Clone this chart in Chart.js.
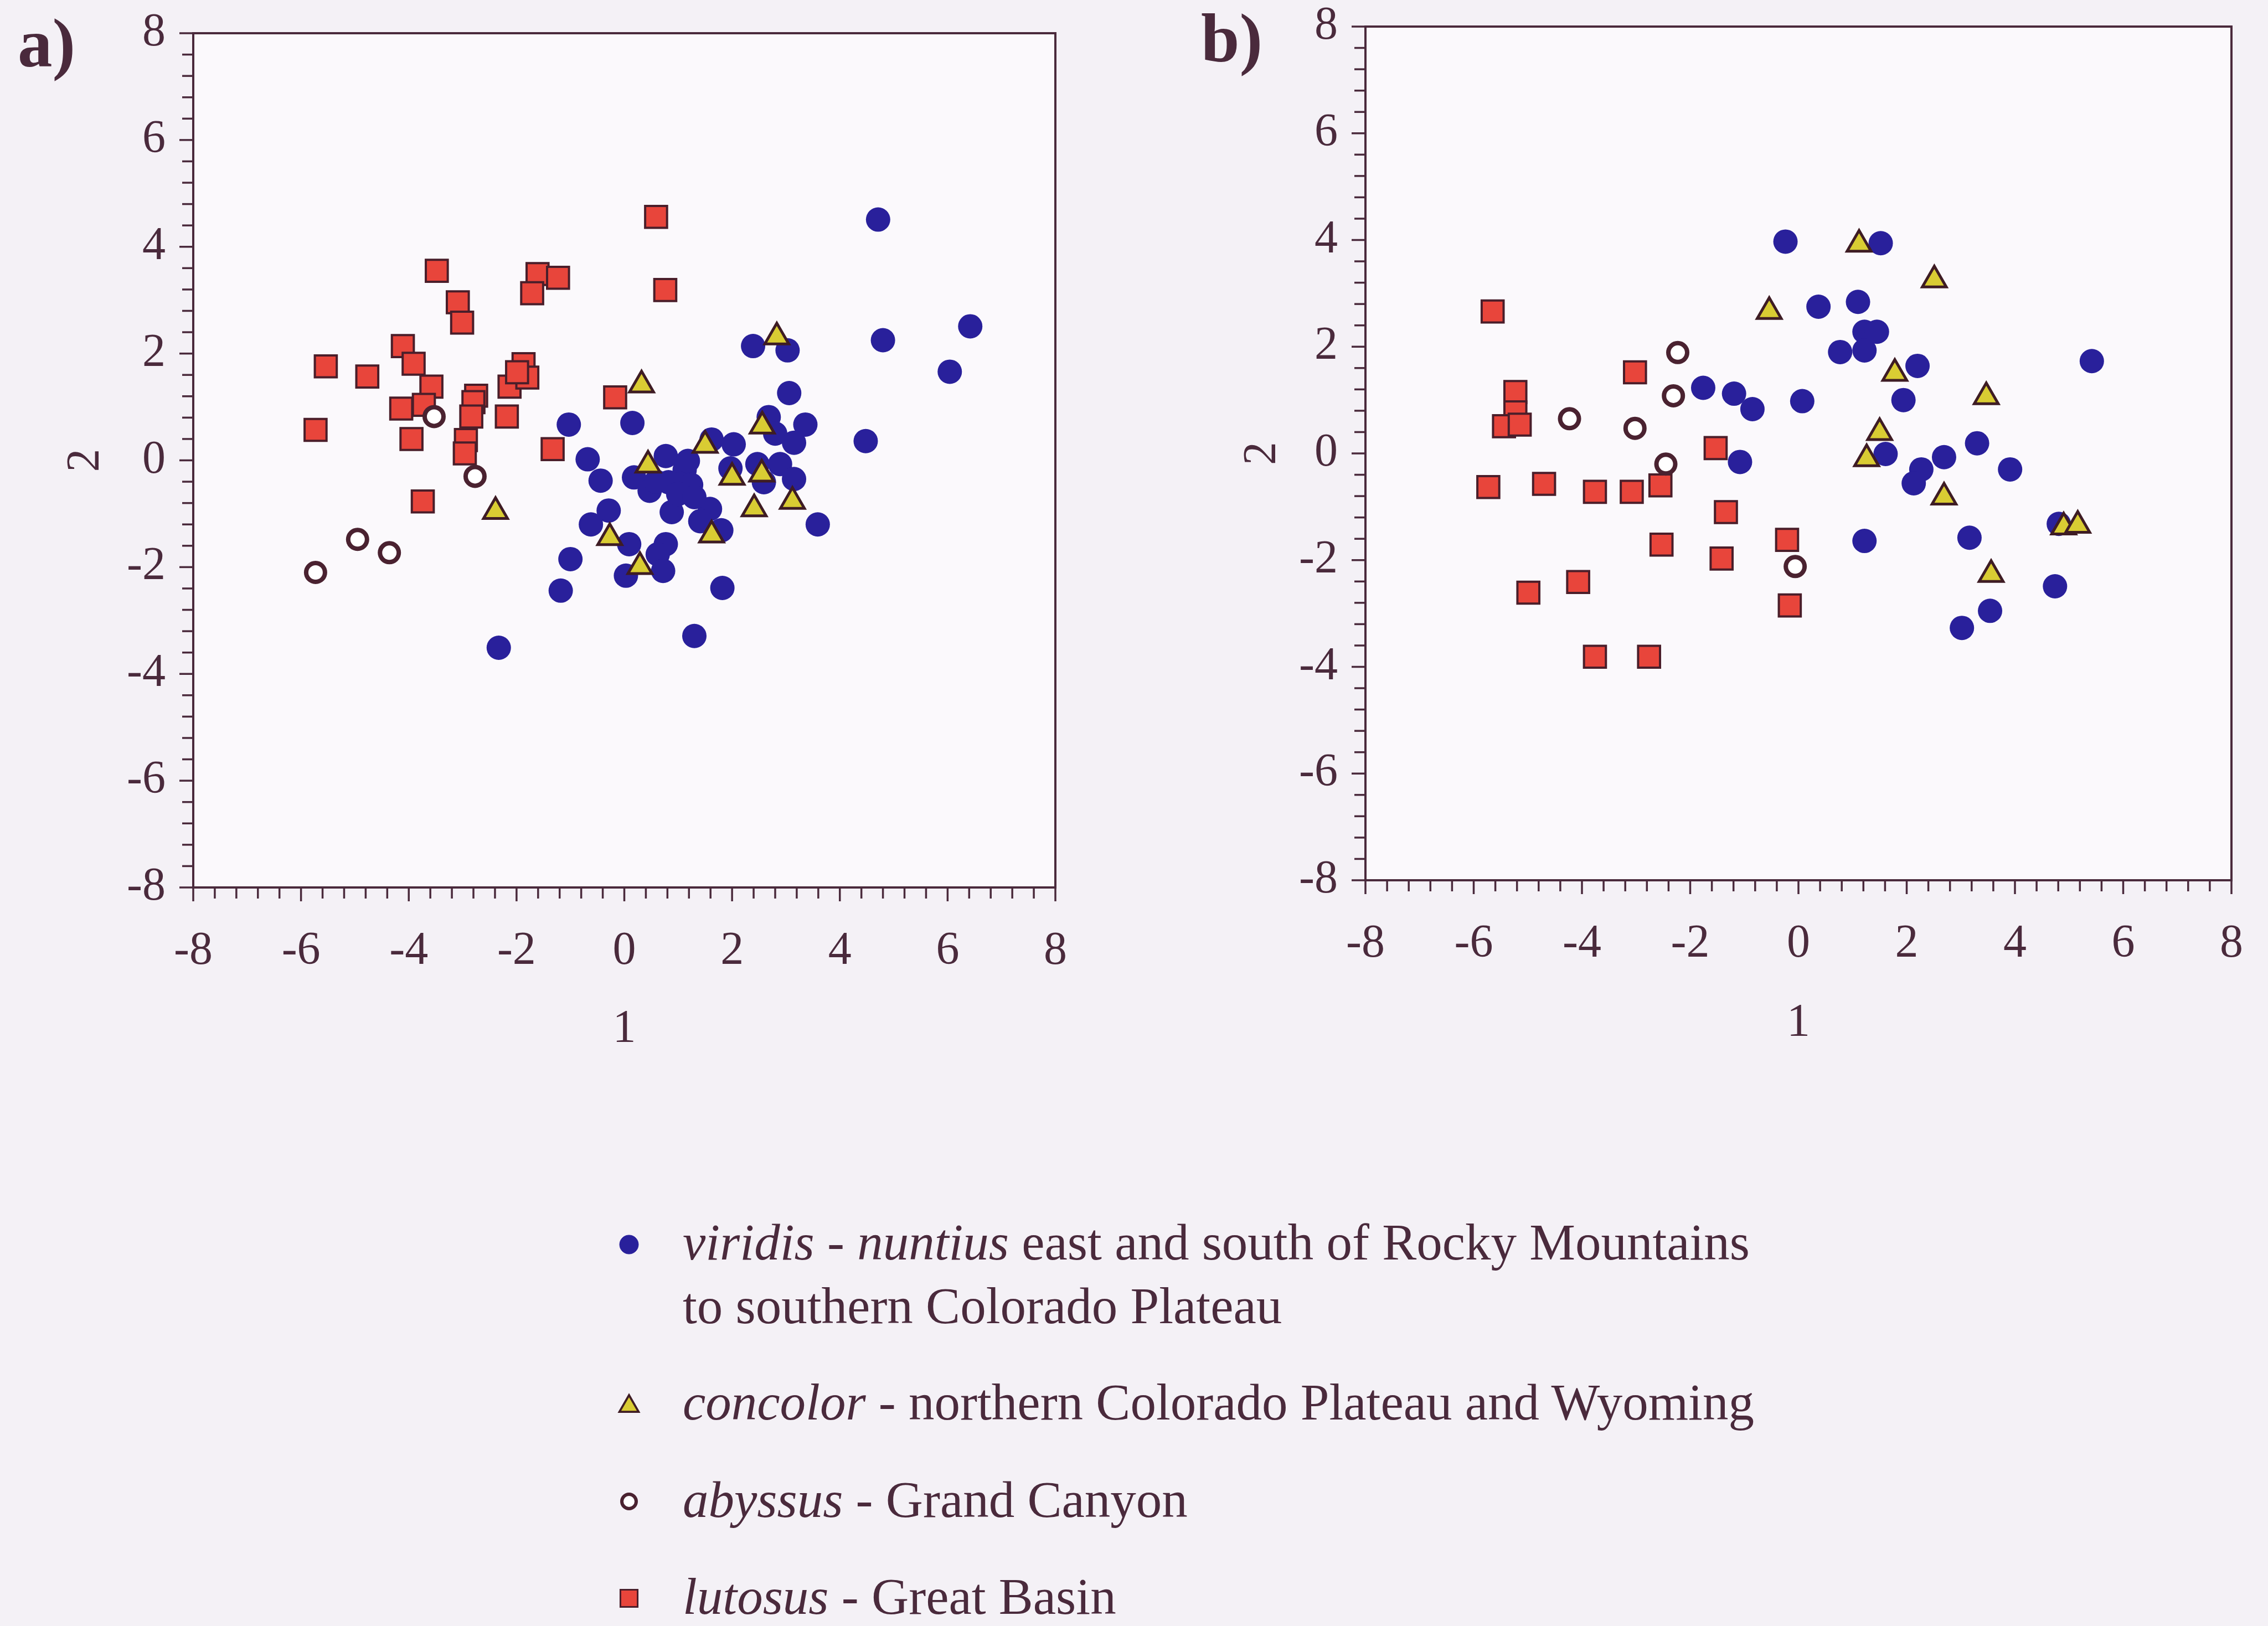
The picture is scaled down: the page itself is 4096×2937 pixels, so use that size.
<!DOCTYPE html>
<html>
<head>
<meta charset="utf-8">
<script src="https://cdn.jsdelivr.net/npm/chart.js@4.4.1/dist/chart.umd.min.js"></script>
<style>
  html, body { margin: 0; padding: 0; }
  body {
    width: 4096px; height: 2937px; position: relative; overflow: hidden;
    background: #f4f1f6; color: #4a2a3c;
    font-family: 'Liberation Serif', 'Times New Roman', serif;
  }
  .panel { position: absolute; top: 0; height: 1960px; }
  #panelA { left: 0; width: 2000px; }
  #panelB { left: 2050px; width: 2046px; }
  .tag { position: absolute; font-weight: bold; font-size: 125px; line-height: 125px; }
  .legend-line { position: absolute; left: 1233px; font-size: 93px; line-height: 93px; white-space: nowrap; }
  .legend-mark { position: absolute; width: 60px; height: 60px; }
</style>
</head>
<body>
<div class="tag" style="left:32px; top:16px">a)</div>
<div class="tag" style="left:2169px; top:7px">b)</div>

<div class="panel" id="panelA"><canvas id="chartA"></canvas></div>
<div class="panel" id="panelB"><canvas id="chartB"></canvas></div>

<canvas class="legend-mark" id="mark0" width="60" height="60" style="left:1106px; top:2218px"></canvas>
<div class="legend-line" style="top:2197px"><i>viridis</i> - <i>nuntius</i> east and south of Rocky Mountains</div>
<div class="legend-line" style="top:2312px">to southern Colorado Plateau</div>
<canvas class="legend-mark" id="mark1" width="60" height="60" style="left:1106px; top:2510px"></canvas>
<div class="legend-line" style="top:2486px"><i>concolor</i> - northern Colorado Plateau and Wyoming</div>
<canvas class="legend-mark" id="mark2" width="60" height="60" style="left:1106px; top:2682px"></canvas>
<div class="legend-line" style="top:2662px"><i>abyssus</i> - Grand Canyon</div>
<canvas class="legend-mark" id="mark3" width="60" height="60" style="left:1106px; top:2857px"></canvas>
<div class="legend-line" style="top:2837px"><i>lutosus</i> - Great Basin</div>

<script>
// species, in legend order
const speciesNames = ['viridis - nuntius', 'concolor', 'abyssus', 'lutosus'];
const axisTicks = [-8, -6, -4, -2, 0, 2, 4, 6, 8];
const axisMin = -8;
const axisMax = 8;
const minorStep = 0.4;

// panel a) scores, [axis 1, axis 2]
const viridisA = [[4.71, 4.51], [6.42, 2.51], [4.80, 2.25], [6.04, 1.66], [2.39, 2.14], [3.03, 2.06],
  [3.06, 1.26], [4.48, 0.36], [-1.03, 0.67], [0.15, 0.70], [-0.68, 0.02], [-0.44, -0.38], [3.36, 0.67],
  [2.68, 0.81], [2.80, 0.50], [3.15, 0.33], [1.62, 0.39], [2.03, 0.30], [1.97, -0.15], [2.47, -0.07],
  [2.89, -0.07], [3.15, -0.35], [2.59, -0.41], [3.59, -1.20], [0.77, 0.08], [1.12, -0.18], [0.18, -0.32],
  [0.47, -0.57], [0.82, -0.41], [1.24, -0.46], [0.88, -0.97], [1.59, -0.91], [1.80, -1.31], [1.41, -1.14],
  [1.00, -0.63], [1.18, -0.01], [0.59, -0.40], [1.30, -0.69], [-0.29, -0.94], [-0.62, -1.20], [0.09, -1.57],
  [0.77, -1.57], [0.62, -1.76], [0.72, -2.07], [0.03, -2.16], [-1.00, -1.85], [-1.18, -2.44], [1.82, -2.39],
  [1.30, -3.29], [-2.33, -3.51]];
const concolorA = [[0.32, 1.41], [2.83, 2.31], [2.56, 0.64], [1.50, 0.28], [0.44, -0.09], [2.00, -0.32],
  [2.55, -0.26], [3.12, -0.77], [2.41, -0.91], [1.62, -1.40], [-0.27, -1.45], [0.29, -1.99], [-2.39, -0.96]];
const abyssusA = [[-3.53, 0.82], [-2.77, -0.30], [-4.95, -1.48], [-4.36, -1.73], [-5.73, -2.10]];
const lutosusA = [[0.59, 4.56], [-3.48, 3.55], [-1.61, 3.49], [-1.23, 3.42], [-1.71, 3.13], [-3.09, 2.96],
  [0.76, 3.19], [-3.01, 2.58], [-4.11, 2.14], [-5.54, 1.76], [-3.91, 1.81], [-4.77, 1.57], [-1.87, 1.80],
  [-2.13, 1.38], [-1.80, 1.55], [-1.99, 1.65], [-3.58, 1.38], [-2.75, 1.21], [-2.80, 1.09], [-4.14, 0.97],
  [-3.72, 1.04], [-2.84, 0.82], [-2.18, 0.82], [-5.73, 0.57], [-3.95, 0.40], [-2.94, 0.38], [-2.96, 0.13],
  [-1.33, 0.21], [-0.17, 1.18], [-3.74, -0.77]];

// panel b)
const viridisB = [[-0.24, 3.97], [1.52, 3.94], [0.37, 2.75], [1.10, 2.84], [1.22, 2.28], [1.45, 2.28],
  [0.77, 1.90], [1.22, 1.93], [2.20, 1.64], [1.94, 1.00], [0.07, 0.98], [-0.85, 0.83], [-1.19, 1.12],
  [-1.76, 1.23], [-1.08, -0.16], [5.42, 1.73], [1.61, -0.01], [3.30, 0.19], [2.69, -0.07], [2.27, -0.30],
  [2.13, -0.56], [3.91, -0.30], [1.22, -1.64], [3.16, -1.58], [4.81, -1.32], [4.74, -2.49], [3.54, -2.95],
  [3.02, -3.27]];
const concolorB = [[1.12, 3.92], [2.51, 3.25], [-0.54, 2.66], [1.78, 1.50], [3.47, 1.06], [1.50, 0.39],
  [1.26, -0.10], [2.69, -0.82], [4.90, -1.38], [5.16, -1.35], [3.56, -2.27]];
const abyssusB = [[-2.23, 1.89], [-2.31, 1.08], [-4.23, 0.65], [-3.02, 0.47], [-2.45, -0.20], [-0.06, -2.12]];
const lutosusB = [[-5.65, 2.66], [-5.23, 1.15], [-5.23, 0.77], [-5.44, 0.51], [-5.15, 0.54], [-3.02, 1.52],
  [-5.73, -0.63], [-4.70, -0.57], [-3.76, -0.72], [-3.08, -0.72], [-2.55, -0.60], [-1.53, 0.10],
  [-1.34, -1.10], [-2.53, -1.71], [-1.42, -1.97], [-0.21, -1.62], [-0.16, -2.85], [-4.07, -2.41],
  [-4.99, -2.61], [-3.76, -3.81], [-2.76, -3.81]];

const ink = '#4a2a3c';
const plotFill = '#fbf9fc';
const fontFamily = "'Liberation Serif', 'Times New Roman', serif";

// marker look per species (same order as speciesNames)
const markers = [
  { pointStyle: 'circle', radius: 22, backgroundColor: '#29209b', borderColor: '#29209b', borderWidth: 0, order: 4 },
  { pointStyle: 'triangle', radius: 25, backgroundColor: '#d9cc33', borderColor: '#3e1c24', borderWidth: 5, order: 1 },
  { pointStyle: 'circle', radius: 17, backgroundColor: '#ffffff', borderColor: '#4a2230', borderWidth: 8, order: 2 },
  { pointStyle: 'rect', radius: 28, backgroundColor: '#e8453b', borderColor: '#4a1e2a', borderWidth: 4, order: 3 }
];

function toPoints(pairs) {
    return pairs.map(p => ({ x: p[0], y: p[1] }));
}

// frame and tick marks (major every 2, minor every 0.4)
const frameTicks = {
    id: 'frameTicks',
    beforeDraw(chart) {
        const { ctx, chartArea: a } = chart;
        ctx.save();
        ctx.fillStyle = plotFill;
        ctx.fillRect(a.left, a.top, a.right - a.left, a.bottom - a.top);
        ctx.restore();
    },
    afterDraw(chart) {
        const { ctx, chartArea: a } = chart;
        const xs = chart.scales.x;
        const ys = chart.scales.y;
        ctx.save();
        ctx.strokeStyle = ink;
        ctx.lineWidth = 4;
        ctx.strokeRect(a.left, a.top, a.right - a.left, a.bottom - a.top);
        ctx.lineWidth = 3.5;
        const n = Math.round((axisMax - axisMin) / minorStep);
        for (let i = 0; i <= n; i++) {
            const v = axisMin + i * minorStep;
            const len = i % 5 === 0 ? 25 : 20;
            const px = xs.getPixelForValue(v);
            ctx.beginPath();
            ctx.moveTo(px, a.bottom);
            ctx.lineTo(px, a.bottom + len);
            ctx.stroke();
            const py = ys.getPixelForValue(v);
            ctx.beginPath();
            ctx.moveTo(a.left, py);
            ctx.lineTo(a.left - len, py);
            ctx.stroke();
        }
        ctx.restore();
    }
};

function makeChart(id, series, geom) {
    const datasets = series.map((pairs, i) => ({
        label: speciesNames[i],
        data: toPoints(pairs),
        pointStyle: markers[i].pointStyle,
        pointRadius: markers[i].radius,
        pointHoverRadius: markers[i].radius,
        backgroundColor: markers[i].backgroundColor,
        borderColor: markers[i].borderColor,
        borderWidth: markers[i].borderWidth,
        order: markers[i].order
    }));
    const tickFont = { family: fontFamily, size: 84, lineHeight: 1 };
    // label offsets come from the (hidden) tick length so they do not push the plot area
    return new Chart(document.getElementById(id), {
        type: 'scatter',
        data: { datasets: datasets },
        options: {
            responsive: true,
            maintainAspectRatio: false,
            animation: false,
            layout: {
                autoPadding: false,
                padding: { left: 0, top: geom.top, right: geom.right, bottom: geom.bottom }
            },
            plugins: {
                legend: { display: false },
                tooltip: { enabled: false }
            },
            scales: {
                x: {
                    type: 'linear',
                    min: axisMin,
                    max: axisMax,
                    afterBuildTicks: s => { s.ticks = axisTicks.map(v => ({ value: v })); },
                    afterFit: s => { s.height = 340; s.paddingLeft = 0; s.paddingRight = 0; },
                    ticks: { color: ink, font: tickFont, padding: 0, maxRotation: 0, callback: v => String(v) },
                    grid: { display: false, drawTicks: true, tickLength: 74 },
                    border: { display: false },
                    title: { display: true, text: '1', color: ink, font: tickFont, padding: { top: 0, bottom: geom.xTitlePad } }
                },
                y: {
                    type: 'linear',
                    min: axisMin,
                    max: axisMax,
                    afterBuildTicks: s => { s.ticks = axisTicks.map(v => ({ value: v })); },
                    afterFit: s => { s.width = geom.yWidth; s.paddingTop = 0; s.paddingBottom = 0; },
                    ticks: { color: ink, font: tickFont, padding: 0, callback: v => String(v) },
                    grid: { display: false, drawTicks: true, tickLength: 50 },
                    border: { display: false },
                    title: { display: true, text: '2', color: ink, font: tickFont, padding: { top: geom.yTitlePad, bottom: 0 } }
                }
            }
        },
        plugins: [frameTicks]
    });
}

makeChart('chartA', [viridisA, concolorA, abyssusA, lutosusA],
    { top: 60, right: 94, bottom: 17, yWidth: 349, xTitlePad: 41, yTitlePad: 114 });
makeChart('chartB', [viridisB, concolorB, abyssusB, lutosusB],
    { top: 48, right: 66, bottom: 30, yWidth: 416, xTitlePad: 39, yTitlePad: 189 });

// legend symbols, slightly smaller than in the plots
const legendSizes = [17, 20, 13, 22];
markers.forEach((m, i) => {
    const ctx = document.getElementById('mark' + i).getContext('2d');
    ctx.fillStyle = m.backgroundColor;
    ctx.strokeStyle = m.borderColor;
    ctx.lineWidth = m.borderWidth ? Math.max(3, m.borderWidth * 0.75) : 0;
    Chart.helpers.drawPoint(ctx, {
        pointStyle: m.pointStyle,
        radius: legendSizes[i],
        borderWidth: ctx.lineWidth,
        rotation: 0
    }, 30, 30);
});
</script>
</body>
</html>
